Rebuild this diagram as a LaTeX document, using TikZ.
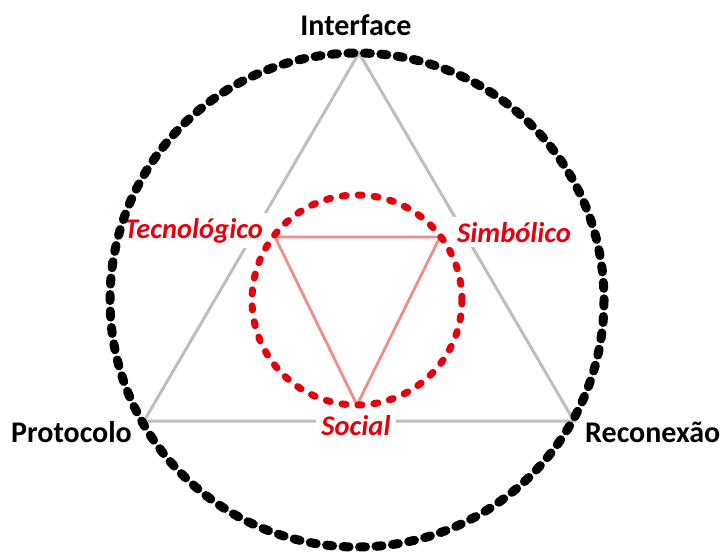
\documentclass[tikz,border=0pt]{standalone}
\usepackage{fontspec}
\setmainfont{Carlito}
\usetikzlibrary{positioning}
\definecolor{ringred}{RGB}{228,0,12}
\definecolor{linkpink}{RGB}{242,140,140}
\definecolor{linkgrey}{RGB}{190,190,190}

\begin{document}
\begin{tikzpicture}[x=1pt,y=-1pt,
    outerring/.style={draw=black, line width=9pt, dash pattern=on 6pt off 10.5pt, line cap=round},
    innerring/.style={draw=ringred, line width=7pt, dash pattern=on 4pt off 12pt, line cap=round},
    outerlink/.style={draw=linkgrey, line width=3pt},
    innerlink/.style={draw=linkpink, line width=2.8pt},
    outerlabel/.style={font=\bfseries\fontsize{30}{36}\selectfont, text=black, inner sep=0pt},
    innerlabel/.style={font=\bfseries\itshape\fontsize{28.5}{34}\selectfont, text=ringred, fill=white, inner sep=5pt}]
    \useasboundingbox (0,0) rectangle (722,554);

    % outer triangle
    \coordinate (vI) at (359,53);
    \coordinate (vP) at (144,421);
    \coordinate (vR) at (574,421);
    \draw[outerlink] (vI) -- (vP) -- (vR) -- cycle;

    % inner triangle
    \coordinate (vT) at (275,237);
    \coordinate (vS) at (440,237);
    \coordinate (vO) at (357,405);

    % labels
    \node[outerlabel, anchor=base] (interface) at (356,35) {Interface};
    \node[outerlabel, anchor=base east] (protocolo) at (132,442) {Protocolo};
    \node[outerlabel, anchor=base west] (reconexao) at (585,442) {Reconexão};
    \node[innerlabel, anchor=base east] (tecno) at (268,238) {Tecnológico};
    \node[innerlabel, anchor=base west] (simbol) at (452,242) {Simbólico};
    \node[innerlabel, anchor=base] (social) at (356,435) {Social};

    \draw[innerlink] (vT) -- (vS) -- (vO) -- cycle;

    % rings
    \draw[outerring] (357,300) circle (247);
    \draw[innerring] (357,300) circle (105);
\end{tikzpicture}
\end{document}
